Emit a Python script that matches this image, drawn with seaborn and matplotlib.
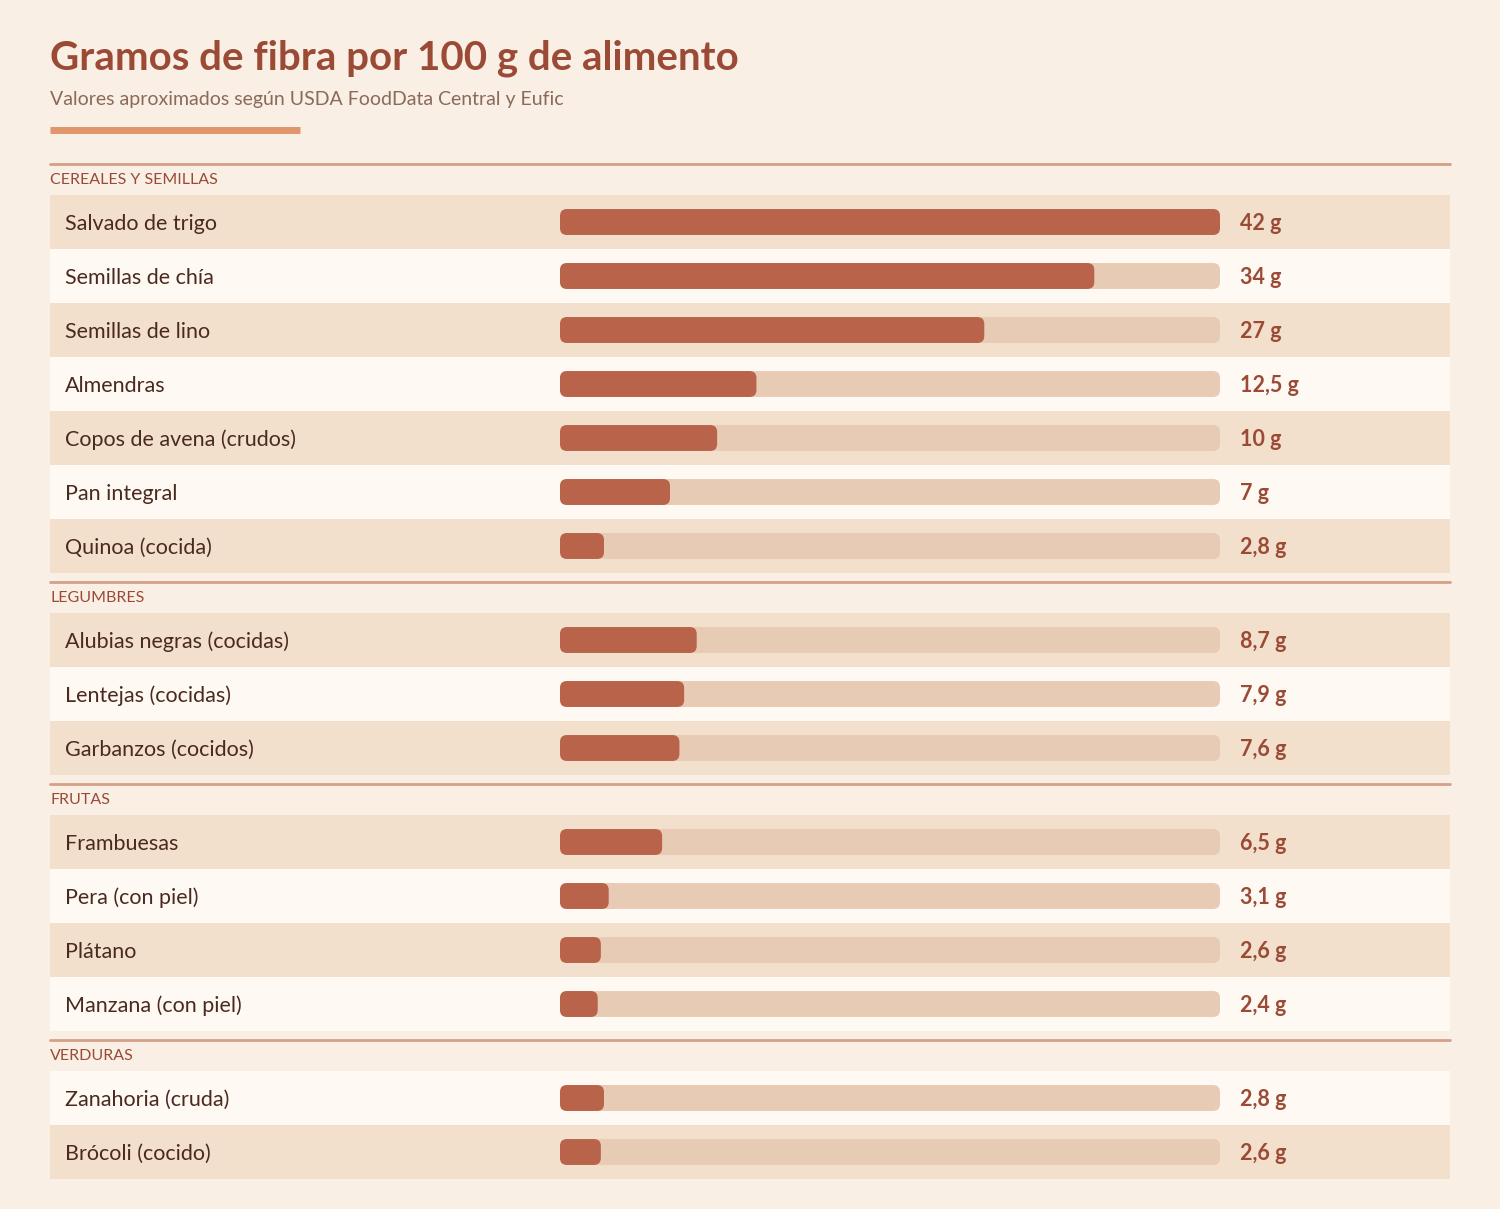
import pandas as pd
import matplotlib.pyplot as plt
import seaborn as sns
from matplotlib.patches import FancyBboxPatch, Rectangle

sns.set_theme(style='white')
plt.rcParams['font.family'] = ['Lato', 'DejaVu Sans']

sections = ["CEREALES Y SEMILLAS", "LEGUMBRES", "FRUTAS", "VERDURAS"]
foods = [
    ["Salvado de trigo", "Semillas de chía", "Semillas de lino", "Almendras",
     "Copos de avena (crudos)", "Pan integral", "Quinoa (cocida)"],
    ["Alubias negras (cocidas)", "Lentejas (cocidas)", "Garbanzos (cocidos)"],
    ["Frambuesas", "Pera (con piel)", "Plátano", "Manzana (con piel)"],
    ["Zanahoria (cruda)", "Brócoli (cocido)"],
]
fiber = [
    [42, 34, 27, 12.5, 10, 7, 2.8],
    [8.7, 7.9, 7.6],
    [6.5, 3.1, 2.6, 2.4],
    [2.8, 2.6],
]
labels = [
    ["42 g", "34 g", "27 g", "12,5 g", "10 g", "7 g", "2,8 g"],
    ["8,7 g", "7,9 g", "7,6 g"],
    ["6,5 g", "3,1 g", "2,6 g", "2,4 g"],
    ["2,8 g", "2,6 g"],
]
max_val = 42

BG = "#f9efe4"
DARK_ROW = "#f2dfcc"
LIGHT_ROW = "#fff9f3"
BAR = "#b8634a"
TRACK = "#e8cbb5"
RED = "#9a4a35"
TEXT = "#4a2a20"

# layout in pixels (y downwards)
rows = []
y = 164
for s, (name, fl, fv, lb) in enumerate(zip(sections, foods, fiber, labels)):
    sec_line = y
    top = y + 31
    for i, (f, v, l) in enumerate(zip(fl, fv, lb)):
        shade = (i % 2 == 0) if s < 3 else (i % 2 == 1)
        rows.append(dict(section=name, sec_line=sec_line, first=(i == 0),
                         food=f, value=v, label=l, center=top + 27 + 54 * i, dark=shade))
    y = top + 54 * len(fl) + 9
df = pd.DataFrame(rows)
df["full"] = max_val

W, H = 1500, 1209
fig = plt.figure(figsize=(15, 12.09), dpi=100)
fig.patch.set_facecolor(BG)

base = fig.add_axes([0, 0, 1, 1])
base.set_xlim(0, W)
base.set_ylim(H, 0)
base.axis("off")

base.text(50, 58, "Gramos de fibra por 100 g de alimento", fontsize=29, fontweight="bold",
          color=RED, va="center")
base.text(50, 99, "Valores aproximados según USDA FoodData Central y Eufic", fontsize=14,
          color="#8a6a5a", va="center")
base.plot([50, 300], [130, 130], color="#e0956a", lw=5, solid_capstyle="butt")

for _, r in df.iterrows():
    if r["first"]:
        base.plot([50, 1450], [r["sec_line"], r["sec_line"]], color="#d4a088", lw=2)
        base.text(50, r["sec_line"] + 16, r["section"], fontsize=11.5, color=RED, va="center")
    base.add_patch(Rectangle((50, r["center"] - 27), 1400, 54,
                             facecolor=DARK_ROW if r["dark"] else LIGHT_ROW, edgecolor="none"))
    base.text(65, r["center"] + 2, r["food"], fontsize=15.5, color=TEXT, va="center")
    base.text(1240, r["center"] + 2, r["label"], fontsize=15.5, fontweight="bold",
              color=RED, va="center")

bx = fig.add_axes([560 / W, 0, 660 / W, 1])
bx.patch.set_alpha(0)
sns.barplot(data=df, x="full", y="center", orient="h", native_scale=True,
            color=TRACK, width=0.48, ax=bx, saturation=1)
sns.barplot(data=df, x="value", y="center", orient="h", native_scale=True,
            color=BAR, width=0.48, ax=bx, saturation=1)
bx.set_xlim(0, max_val)
bx.set_ylim(H, 0)
bx.axis("off")

# round the bar corners
xpp = max_val / 660
for p in list(bx.patches):
    x0, y0, w, h = p.get_x(), p.get_y(), p.get_width(), p.get_height()
    bx.add_patch(FancyBboxPatch((x0, y0), w, h,
                                boxstyle=f"round,pad=0,rounding_size={7 * xpp}",
                                mutation_aspect=1 / xpp,
                                facecolor=p.get_facecolor(), edgecolor="none"))
    p.remove()

fig.savefig("out.png", dpi=100, facecolor=BG)
